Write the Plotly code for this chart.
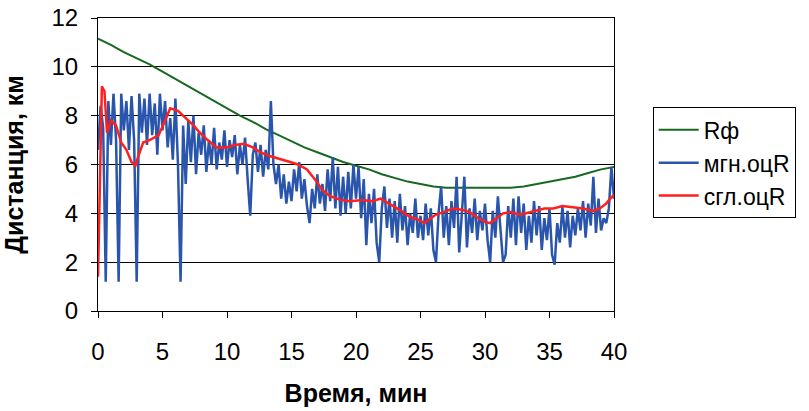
import numpy as np
import plotly.graph_objects as go

# Rф (actual distance), sampled each minute
rf_x = list(range(0, 41))
rf_y = [11.15, 10.9, 10.6, 10.35, 10.1, 9.8, 9.5, 9.2, 8.9, 8.6,
        8.3, 8.0, 7.75, 7.45, 7.2, 6.95, 6.7, 6.5, 6.3, 6.1,
        5.95, 5.8, 5.6, 5.45, 5.3, 5.2, 5.1, 5.05, 5.05, 5.05,
        5.05, 5.05, 5.05, 5.1, 5.2, 5.3, 5.4, 5.5, 5.65, 5.8, 5.9]

# мгн.оцR (instantaneous estimate), sampled every 0.2 min
inst_x = [round(i * 0.2, 1) for i in range(201)]
inst_y = [6.6, 8.4, 7.5, 1.2, 8.6, 6.8, 8.9, 7.0, 1.2, 8.9,
          7.4, 8.6, 6.6, 8.8, 7.0, 1.2, 8.9, 7.3, 8.7, 6.8,
          8.9, 7.2, 8.5, 6.4, 8.9,
          7.4, 8.6, 6.7, 7.9, 6.2, 8.7, 6.0, 1.2, 7.6, 5.2,
          7.8, 6.1, 8.0, 5.6, 7.3, 6.4, 7.6, 5.7, 7.0, 6.0,
          7.5, 5.8, 6.9, 6.2, 7.4,
          5.9, 7.0, 6.3, 7.2, 5.6, 6.8, 6.0, 7.1, 5.4, 3.9,
          6.4, 6.9, 5.7, 6.8, 5.5, 6.6, 5.8, 8.6, 6.0, 5.2,
          6.0, 4.6, 5.6, 4.4, 5.3,
          4.5, 5.8, 4.9, 6.1, 4.6, 5.4, 4.3, 3.6, 5.0, 4.2,
          5.6, 4.4, 5.2, 4.1, 5.8, 4.5, 6.3, 4.2, 5.9, 3.9,
          5.5, 4.0, 5.7, 4.2, 6.0,
          4.6, 5.9, 3.8, 5.4, 2.7, 4.8, 3.6, 5.0, 2.8, 2.0,
          4.2, 5.1, 3.4, 4.6, 3.0, 4.5, 2.8, 4.8, 3.3, 4.3,
          2.7, 4.0, 3.2, 4.6, 3.0,
          3.9, 2.9, 4.4, 3.1, 4.2, 2.5, 2.0, 4.0, 5.1, 3.0,
          4.3, 2.7, 4.5, 3.4, 5.5, 2.4, 3.8, 5.5, 2.6, 4.2,
          3.2, 4.6, 2.9, 4.1, 3.3,
          4.4, 2.9, 2.0, 4.1, 3.0, 4.7, 3.2, 2.0, 2.3, 4.3,
          3.0, 4.6, 2.7, 4.7, 3.2, 4.4, 2.5, 3.9, 2.8, 4.5,
          3.1, 4.3, 2.5, 3.8, 2.9,
          4.2, 2.3, 1.9, 3.6, 2.8, 4.3, 3.0, 4.1, 2.6, 3.9,
          3.1, 4.2, 3.3, 4.5, 3.0, 4.4, 3.5, 5.5, 3.2, 4.6,
          3.3, 3.8, 3.6, 4.2, 5.9, 4.6]

# сгл.оцR (smoothed estimate)
sm_x = [0, 0.15, 0.3, 0.5, 0.7, 1.0, 1.4, 1.8, 2.2, 2.6,
        2.9, 3.1, 3.5, 4.0, 4.7, 5.2, 5.6, 6.2, 6.8, 7.4,
        7.9, 8.5, 9.2, 10, 10.6, 11.3, 12.0, 12.6, 13.3, 14.0,
        14.9, 15.5, 16.2, 16.8, 17.4, 18.0, 18.8, 19.5, 20.5, 21.3,
        21.9, 22.4, 22.9, 23.5, 24.2, 24.8, 25.3, 25.8, 26.2, 26.8,
        27.5, 28.2, 28.8, 29.5, 30.0, 30.4, 30.9, 31.4, 32.0, 32.6,
        33.2, 34.0, 34.6, 35.3, 36.0, 36.8, 37.6, 38.4, 38.9, 39.4,
        39.7, 40]
sm_y = [1.4, 6.0, 9.2, 9.0, 7.3, 7.8, 7.6, 6.9, 6.6, 6.1,
        5.95, 6.3, 6.9, 7.0, 7.2, 7.8, 8.3, 8.2, 7.9, 7.6,
        7.3, 7.0, 6.7, 6.7, 6.8, 6.85, 6.7, 6.5, 6.35, 6.25,
        6.1, 6.0, 5.8, 5.4, 4.95, 4.7, 4.55, 4.5, 4.55, 4.5,
        4.6, 4.45, 4.3, 4.1, 3.85, 3.75, 3.6, 3.8, 3.95, 4.05,
        4.2, 4.15, 4.05, 3.8, 3.65, 3.6, 3.8, 4.0, 4.05, 3.95,
        4.0, 4.1, 4.2, 4.2, 4.3, 4.25, 4.2, 4.1, 4.2, 4.4,
        4.6, 4.75]

x_ticks = [0, 5, 10, 15, 20, 25, 30, 35, 40]
y_ticks = [0, 2, 4, 6, 8, 10, 12]

FONT = "Liberation Sans, Arial, sans-serif"

fig = go.Figure()
fig.add_trace(go.Scatter(x=rf_x, y=rf_y, mode="lines", name="Rф",
                         line=dict(color="#16691f", width=2)))
fig.add_trace(go.Scatter(x=inst_x, y=inst_y, mode="lines", name="мгн.оцR",
                         line=dict(color="#2a55ad", width=2.5)))
fig.add_trace(go.Scatter(x=sm_x, y=sm_y, mode="lines", name="сгл.оцR",
                         line=dict(color="#ff1f1f", width=2.5)))

fig.update_layout(
    width=809, height=411,
    margin=dict(l=98, r=195, t=18, b=100, autoexpand=False),
    paper_bgcolor="white", plot_bgcolor="white",
    font=dict(family=FONT, color="black", size=22),
    showlegend=True,
    legend=dict(x=1.075, y=0.695, xanchor="left", yanchor="top",
                bordercolor="black", borderwidth=1, bgcolor="white",
                font=dict(size=23, family=FONT), tracegroupgap=0,
                itemwidth=40),
    xaxis=dict(range=[0, 40], tickvals=x_ticks, ticktext=[str(v) for v in x_ticks],
               showgrid=False, zeroline=False, showline=True, linecolor="black",
               linewidth=1, mirror=True, ticks="outside", ticklen=6, tickcolor="black",
               tickfont=dict(size=24), ticklabelstandoff=13, automargin=False,
               title=dict(text="<b>Время, мин</b>", font=dict(size=25), standoff=20)),
    yaxis=dict(range=[0, 12], tickvals=y_ticks, ticktext=[str(v) for v in y_ticks],
               showgrid=True, gridcolor="black", gridwidth=1, zeroline=False,
               showline=True, linecolor="black", linewidth=1, mirror=True,
               ticks="outside", ticklen=6, tickcolor="black", automargin=False,
               tickfont=dict(size=24), ticklabelstandoff=8,
               title=dict(text="<b>Дистанция, км</b>", font=dict(size=25), standoff=20)),
)

fig.write_html("out.html")
